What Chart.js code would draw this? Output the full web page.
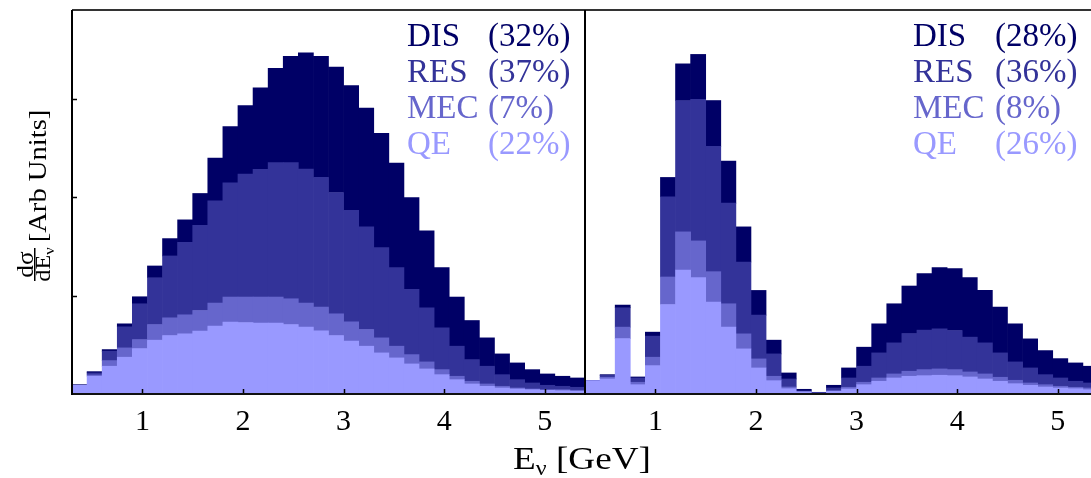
<!DOCTYPE html>
<html>
<head>
<meta charset="utf-8">
<script src="https://cdn.jsdelivr.net/npm/chart.js@4.4.1/dist/chart.umd.min.js"></script>
<style>
    html, body { margin: 0; padding: 0; overflow: hidden; background: #fff; width: 1091px; height: 478px; }
    canvas { position: absolute; top: 0; }
    #left { left: 0; }
    #right { left: 584px; }
    #xtitle {
        position: absolute; top: 441px; left: 582px;
        font-family: "Liberation Serif"; font-size: 31px; white-space: nowrap;
        transform: translateX(-50%) scaleX(1.2);
    }
    #xtitle sub { font-size: 20px; vertical-align: -6px; }
</style>
</head>
<body>
<canvas id="left" width="590" height="478"></canvas>
<canvas id="right" width="530" height="478"></canvas>
<div id="xtitle">E<sub>ν</sub> [GeV]</div>
<script>
// energy bins (centres, GeV), 0.15 GeV wide from 0.3 to 5.4
var binCenters = [0.375, 0.525, 0.675, 0.825, 0.975, 1.125, 1.275, 1.425, 1.575, 1.725,
    1.875, 2.025, 2.175, 2.325, 2.475, 2.625, 2.775, 2.925, 3.075, 3.225,
    3.375, 3.525, 3.675, 3.825, 3.975, 4.125, 4.275, 4.425, 4.575, 4.725,
    4.875, 5.025, 5.175, 5.325];
var xTicks = [1, 2, 3, 4, 5];
var yTicks = [98, 196, 294];

var names = ['QE', 'MEC', 'RES', 'DIS'];
var colors = ['#9999ff', '#6666cc', '#333399', '#000066'];
var sharesLeft = [22, 7, 37, 32];
var sharesRight = [26, 8, 36, 28];

// left panel (arb units)
var qeL = [8.7, 17.7, 27.7, 36.7, 45.3, 53.7, 58.3, 60, 62.7, 67.7, 71.7, 71.3, 70.7, 70.7, 69.3, 66.7, 63, 58.3, 52.7, 47.7, 41, 36, 30, 25, 19.3, 14.3, 10, 7.7, 6, 5, 4.3, 3.7, 3.3, 2.7];
var mecL = [0, 1.3, 5.6, 9.3, 9, 15.6, 17.7, 19, 20.6, 23, 25, 25.4, 26, 26, 25.7, 24, 23.7, 21.7, 19.3, 16.6, 15, 11.7, 9.3, 7, 5, 3.4, 2.7, 2.3, 1.7, 1, 0.7, 0.6, 1, 1];
var resL = [0, 2, 9.4, 21, 35.7, 46.7, 61.7, 72.3, 85, 102, 114, 122.6, 127.3, 134, 135.7, 133.6, 129.3, 121, 111.3, 102.4, 90, 78.3, 65, 54, 41.7, 30, 21.6, 17.7, 11.6, 8.3, 6, 4.4, 3.4, 3];
var disL = [0.6, 1.3, 1.6, 3, 7, 11.7, 17.3, 22.4, 31.7, 42.6, 56, 68.4, 81.3, 94, 106, 116, 120.7, 125, 124.4, 118.6, 114, 104.3, 91.7, 76.7, 60, 49, 39, 28.3, 20.7, 16.7, 13.3, 11.3, 10, 9.3];

// right panel (arb units)
var qeR = [13.3, 15, 55.3, 9.3, 28.3, 89.3, 123.7, 116, 91.7, 66.7, 45, 26, 13.3, 5.3, 2, 0.7, 2.7, 5, 9.3, 12.7, 16, 17.7, 18.3, 18.7, 18.3, 17, 15, 12.7, 10.3, 8.7, 7, 6, 5.3, 4.3];
var mecR = [0, 1.7, 11.4, 2.4, 8.4, 27.4, 38, 36.7, 30.3, 23.3, 15, 9, 4.4, 1.7, 0.7, 0.3, 0.6, 1.7, 2.4, 3.3, 4, 5, 6, 6.3, 6, 5, 5, 4, 3.4, 2.3, 2.3, 1.7, 1.4, 1.7];
var resR = [0, 2, 19.3, 4.3, 21, 80, 131, 141.3, 125, 100.3, 71.7, 43.7, 22.3, 8, 0.3, 0.3, 2.7, 9.3, 16, 25, 31, 37.6, 39.4, 40, 39, 34.7, 31, 24.3, 18.3, 15, 10, 8.3, 6, 5];
var disR = [0, 0.6, 2.7, 1, 4, 19.3, 36.6, 44.7, 45.7, 42, 35, 24.6, 13.7, 6, 1.7, 0.4, 2.7, 10, 19, 29, 39, 47.4, 56.3, 61, 61.7, 59.3, 52.3, 45.7, 38, 29, 24, 19.3, 18.3, 16.7];

var serif = "'Liberation Serif', 'Times New Roman', serif";

// frame, inward ticks, legend text and y title
var decor = {
    id: 'decor',
    afterDatasetsDraw: function (chart, args, opts) {
        var ctx = chart.ctx;
        var a = chart.chartArea;
        var xs = chart.scales.x, ys = chart.scales.y;
        ctx.save();
        ctx.strokeStyle = '#000';
        ctx.lineWidth = 1.5;
        ctx.beginPath();
        xTicks.forEach(function (v) {
            var px = Math.round(xs.getPixelForValue(v)) + 0.5;
            ctx.moveTo(px, a.bottom);
            ctx.lineTo(px, a.bottom - 5);
        });
        if (opts.yTicks) {
            yTicks.forEach(function (v) {
                var py = Math.round(ys.getPixelForValue(v)) + 0.5;
                ctx.moveTo(a.left, py);
                ctx.lineTo(a.left + 5, py);
            });
        }
        ctx.stroke();

        // frame
        ctx.lineWidth = 2;
        ctx.strokeStyle = '#333';
        ctx.beginPath();
        ctx.moveTo(a.left, a.top);
        ctx.lineTo(a.right + 20, a.top);
        ctx.stroke();
        ctx.strokeStyle = '#111';
        ctx.beginPath();
        ctx.moveTo(a.left - 1, a.bottom);
        ctx.lineTo(a.right + 20, a.bottom);
        ctx.stroke();
        ctx.strokeStyle = '#000';
        ctx.beginPath();
        ctx.moveTo(a.left, a.top);
        ctx.lineTo(a.left, a.bottom + 1);
        if (opts.rightBorder) {
            ctx.moveTo(a.right, a.top);
            ctx.lineTo(a.right, a.bottom + 1);
        }
        ctx.stroke();

        // legend: DIS on top
        ctx.font = '33px ' + serif;
        ctx.textBaseline = 'alphabetic';
        ctx.textAlign = 'left';
        var ds = chart.data.datasets;
        for (var i = ds.length - 1, row = 0; i >= 0; i--, row++) {
            var y = 46 + row * 36;
            ctx.fillStyle = ds[i].backgroundColor;
            ctx.fillText(ds[i].label, a.left + opts.nameX, y);
            ctx.fillText('(' + opts.shares[i] + '%)', a.left + opts.shareX, y);
        }

        if (opts.yTitle) {
            ctx.fillStyle = '#000';
            ctx.textAlign = 'center';
            ctx.save();
            ctx.translate(46, 176);
            ctx.rotate(-Math.PI / 2);
            ctx.scale(1.1, 1);
            ctx.font = '26px ' + serif;
            ctx.fillText('[Arb Units]', 0, 0);
            ctx.restore();

            ctx.fillRect(34, 248, 1.5, 33);

            ctx.save();
            ctx.translate(32.5, 264.5);
            ctx.rotate(-Math.PI / 2);
            ctx.scale(1.1, 1);
            ctx.font = '23px ' + serif;
            ctx.fillText('dσ', 0, 0);
            ctx.restore();

            ctx.save();
            ctx.translate(50, 264.5);
            ctx.rotate(-Math.PI / 2);
            ctx.scale(1.1, 1);
            ctx.font = '22px ' + serif;
            var w1 = ctx.measureText('dE').width;
            ctx.font = '15px ' + serif;
            var w2 = ctx.measureText('ν').width;
            ctx.textAlign = 'left';
            ctx.font = '22px ' + serif;
            ctx.fillText('dE', -(w1 + w2) / 2, 0);
            ctx.font = '15px ' + serif;
            ctx.fillText('ν', -(w1 + w2) / 2 + w1, 4);
            ctx.restore();
        }
        ctx.restore();
    }
};

function makeDatasets(qe, mec, res, dis) {
    return [qe, mec, res, dis].map(function (vals, i) {
        return {
            label: names[i],
            data: vals,
            backgroundColor: colors[i],
            borderWidth: 0,
            barPercentage: 1,
            categoryPercentage: 1
        };
    });
}

function makeChart(id, datasets, pad, decorOpts) {
    return new Chart(document.getElementById(id), {
        type: 'bar',
        data: { labels: binCenters, datasets: datasets },
        options: {
            responsive: false,
            animation: false,
            devicePixelRatio: 1,
            layout: { padding: pad },
            plugins: {
                legend: { display: false },
                tooltip: { enabled: false },
                decor: decorOpts
            },
            scales: {
                x: {
                    type: 'linear',
                    min: 0.3,
                    max: 5.4,
                    offset: false,
                    stacked: true,
                    afterBuildTicks: function (scale) {
                        scale.ticks = xTicks.map(function (v) { return { value: v }; });
                    },
                    grid: { display: false, drawTicks: false, offset: false },
                    border: { display: false },
                    ticks: {
                        padding: 10,
                        maxRotation: 0,
                        autoSkip: false,
                        color: '#000',
                        font: { family: serif, size: 30 }
                    }
                },
                y: {
                    min: 0,
                    max: 383,
                    stacked: true,
                    display: false
                }
            }
        },
        plugins: [decor]
    });
}

makeChart('left', makeDatasets(qeL, mecL, resL, disL),
    { left: 72, right: 5, top: 10, bottom: 28 },
    { yTicks: true, yTitle: true, rightBorder: true, shares: sharesLeft, nameX: 335, shareX: 416 });

makeChart('right', makeDatasets(qeR, mecR, resR, disR),
    { left: 1, right: 16, top: 10, bottom: 28 },
    { yTicks: false, yTitle: false, rightBorder: false, shares: sharesRight, nameX: 328, shareX: 410 });
</script>
</body>
</html>
